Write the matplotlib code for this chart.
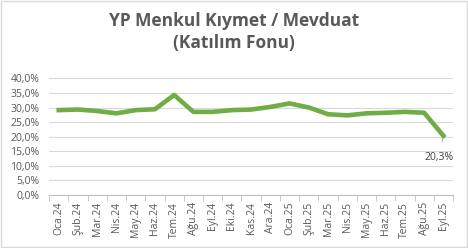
import numpy as np
import matplotlib.pyplot as plt
from matplotlib.ticker import FuncFormatter

plt.rcParams['font.family'] = ['Open Sans', 'DejaVu Sans']

months = ['Oca.24', 'Şub.24', 'Mar.24', 'Nis.24', 'May.24', 'Haz.24', 'Tem.24',
          'Ağu.24', 'Eyl.24', 'Eki.24', 'Kas.24', 'Ara.24', 'Oca.25', 'Şub.25',
          'Mar.25', 'Nis.25', 'May.25', 'Haz.25', 'Tem.25', 'Ağu.25', 'Eyl.25']
values = [29.1, 29.3, 28.8, 28.0, 29.1, 29.4, 34.3, 28.5, 28.5, 29.1, 29.3,
          30.2, 31.4, 30.0, 27.7, 27.3, 28.0, 28.2, 28.5, 28.2, 20.3]

fig = plt.figure(figsize=(4.68, 2.48), dpi=100)
ax = fig.add_axes([0.105, 0.214, 0.863, 0.470])

x = np.arange(len(months))
ax.plot(x, values, color='#70AD47', lw=3.3, solid_joinstyle='round', zorder=3)

ax.set_xlim(-0.5, len(months) - 0.5)
ax.set_ylim(0, 40)
ax.set_yticks(np.arange(0, 41, 5))
ax.yaxis.set_major_formatter(FuncFormatter(lambda v, p: f'{v:.1f}%'.replace('.', ',')))
ax.grid(axis='y', color='#D9D9D9', lw=0.8)
ax.set_axisbelow(True)

ax.set_xticks(x)
ax.set_xticklabels(months, rotation=90, fontsize=7.5)
ax.set_xticks(np.arange(-0.5, len(months), 1), minor=True)
ax.tick_params(axis='x', which='major', length=0, pad=5)
ax.tick_params(axis='x', which='minor', length=4, color='#BFBFBF')
ax.tick_params(axis='y', length=0, pad=7, labelsize=7.5)
ax.tick_params(labelcolor='#595959')

for s in ['top', 'right', 'left']:
    ax.spines[s].set_visible(False)
ax.spines['bottom'].set_color('#BFBFBF')

last = len(values) - 1
ax.annotate(f'{values[last]:.1f}%'.replace('.', ','), xy=(last, values[last]),
            xytext=(last - 0.25, values[last] - 7.3), ha='center', va='center',
            fontsize=7.5, color='#404040',
            arrowprops=dict(arrowstyle='-', color='#A6A6A6', lw=0.6, shrinkA=5, shrinkB=2))

fig.text(0.5, 0.871, 'YP Menkul Kıymet / Mevduat\n(Katılım Fonu)', ha='center',
         va='center', fontsize=12.5, fontweight='bold', color='#595959', linespacing=1.3)

fig.patches.append(plt.Rectangle((0.002, 0.004), 0.996, 0.992, transform=fig.transFigure,
                                 fill=False, edgecolor='#D9D9D9', lw=1))

plt.savefig('out.png', dpi=100)
